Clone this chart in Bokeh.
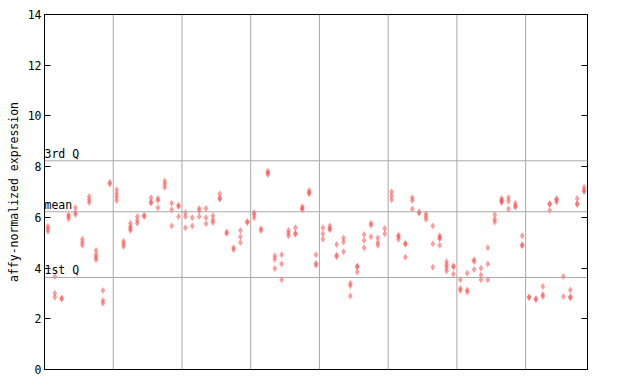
from bokeh.plotting import figure
from bokeh.models import LinearAxis, Range1d, FixedTicker, Span, CustomJSTickFormatter, ColumnDataSource
from bokeh.core.properties import value
from bokeh.embed import file_html
from bokeh.resources import INLINE

# expression values per sample (replicates), samples grouped by 10
samples_00_09 = [[5.65, 5.55, 5.45], [3.67, 3.01, 2.85], [2.82, 2.78], [6.10, 6.03, 5.95],
                 [6.38, 6.19, 6.11], [5.14, 5.01, 4.90], [6.82, 6.69, 6.59], [4.69, 4.53, 4.43, 4.33],
                 [3.12, 2.72, 2.61], [7.38, 7.32]]
samples_10_19 = [[7.09, 6.93, 6.80, 6.66], [5.06, 4.96, 4.85], [5.77, 5.64, 5.56, 5.48], [6.03, 5.88, 5.77],
                 [6.08, 6.03], [6.77, 6.61, 6.57], [6.74, 6.66, 6.38], [7.43, 7.32, 7.19],
                 [6.56, 6.30, 5.66], [6.48, 6.43, 6.03]]
samples_20_29 = [[6.19, 6.03, 5.59], [5.98, 5.66], [6.35, 6.25, 6.03], [6.35, 5.98, 5.75],
                 [6.06, 5.90, 5.80], [6.93, 6.76, 6.72], [5.42, 5.36], [4.80, 4.72],
                 [5.48, 5.24, 5.01], [5.84, 5.80]]
samples_30_39 = [[6.19, 6.11, 5.98], [5.55, 5.48], [7.82, 7.76, 7.69], [4.48, 4.35, 3.98],
                 [4.53, 4.16, 3.54], [5.48, 5.37, 5.27], [5.59, 5.37, 5.33], [6.42, 6.36, 6.30],
                 [7.06, 6.97, 6.93], [4.53, 4.19, 4.11]]
samples_40_49 = [[5.59, 5.35, 5.14], [5.66, 5.55, 5.51], [4.93, 4.52, 4.45], [5.19, 5.03, 4.64],
                 [3.40, 3.30, 2.90], [4.08, 4.04, 3.85], [5.32, 5.09, 4.80], [5.77, 5.69, 5.24],
                 [5.19, 5.01, 4.90], [5.56, 5.35]]
samples_50_59 = [[7.01, 6.85, 6.69], [5.29, 5.25, 5.14], [4.98, 4.94, 4.43], [6.77, 6.66, 6.33],
                 [6.21, 6.17], [6.14, 6.03, 5.93], [5.66, 4.96, 4.03], [5.27, 5.19, 5.17, 4.90],
                 [4.25, 4.12, 4.01, 3.88], [4.08, 4.04, 3.77]]
samples_60_69 = [[3.54, 3.19, 3.12], [3.80, 3.14, 3.06], [4.33, 4.26, 3.94], [3.99, 3.73, 3.54],
                 [4.80, 4.16, 3.54], [6.11, 5.93, 5.82], [6.74, 6.67, 6.64, 6.59], [6.77, 6.64, 6.33],
                 [6.56, 6.45, 6.41], [5.27, 4.92, 4.88]]
samples_70_78 = [[2.87, 2.83], [2.80, 2.75], [3.27, 2.96, 2.88], [6.55, 6.51, 6.27],
                 [6.73, 6.69, 6.61], [3.67, 2.88], [3.14, 2.87, 2.83], [6.74, 6.55, 6.51],
                 [7.19, 7.06, 7.02]]

quartile_labels = ["1st Q", "mean", "3rd Q"]
quartile_values = [3.63, 6.22, 8.23]
y_ticks = [0, 2, 4, 6, 8, 10, 12, 14]
group_size = 10

all_samples = (samples_00_09 + samples_10_19 + samples_20_29 + samples_30_39 +
               samples_40_49 + samples_50_59 + samples_60_69 + samples_70_78)
n = len(all_samples)
xs, ys = [], []
for i, vals in enumerate(all_samples):
    for v in vals:
        xs.append(i + 0.5)
        ys.append(v)

mono = "DejaVu Sans Mono"
p = figure(width=624, height=376, output_backend="svg", toolbar_location=None,
           x_range=Range1d(0, n), y_range=Range1d(0, 14),
           min_border_left=44, min_border_right=37, min_border_top=14, min_border_bottom=7)
p.xaxis.visible = False
p.xgrid.visible = False
p.ygrid.visible = False
p.outline_line_color = "black"
p.outline_line_width = 1
p.background_fill_color = "white"

ax = p.yaxis[0]
ax.ticker = FixedTicker(ticks=y_ticks)
ax.major_tick_in = 6
ax.major_tick_out = 0
ax.minor_tick_line_color = None
ax.axis_line_color = "black"
ax.major_label_text_font = mono
ax.major_label_text_font_size = "11.5px"
ax.major_label_text_color = "black"
ax.major_label_standoff = 3
ax.axis_label = "affy-normalized expression"
ax.axis_label_text_font = mono
ax.axis_label_text_font_size = "11.5px"
ax.axis_label_text_font_style = "normal"
ax.axis_label_text_color = "black"
ax.axis_label_standoff = 4

rax = LinearAxis(ticker=FixedTicker(ticks=y_ticks), major_tick_in=6, major_tick_out=0,
                 minor_tick_line_color=None, major_label_text_font_size="0px",
                 formatter=CustomJSTickFormatter(code="return ''"), major_label_standoff=0)
p.add_layout(rax, "right")

for g in range(group_size, n, group_size):
    p.add_layout(Span(location=g, dimension="height", line_color="#a8a8a8", line_width=1))
for q in quartile_values:
    p.add_layout(Span(location=q, dimension="width", line_color="#a8a8a8", line_width=1))

src = ColumnDataSource(dict(x=xs, y=ys))
p.scatter("x", "y", source=src, marker="diamond", size=7, fill_color="#ff4d4d",
          fill_alpha=0.55, line_color=None)

p.text(x=[0] * len(quartile_values), y=quartile_values, text=quartile_labels,
       text_font=value(mono), text_font_size="11.5px", text_color="black",
       text_baseline="bottom", text_align="left", x_offset=0, y_offset=0)

open("out.html", "w").write(file_html(p, INLINE))
